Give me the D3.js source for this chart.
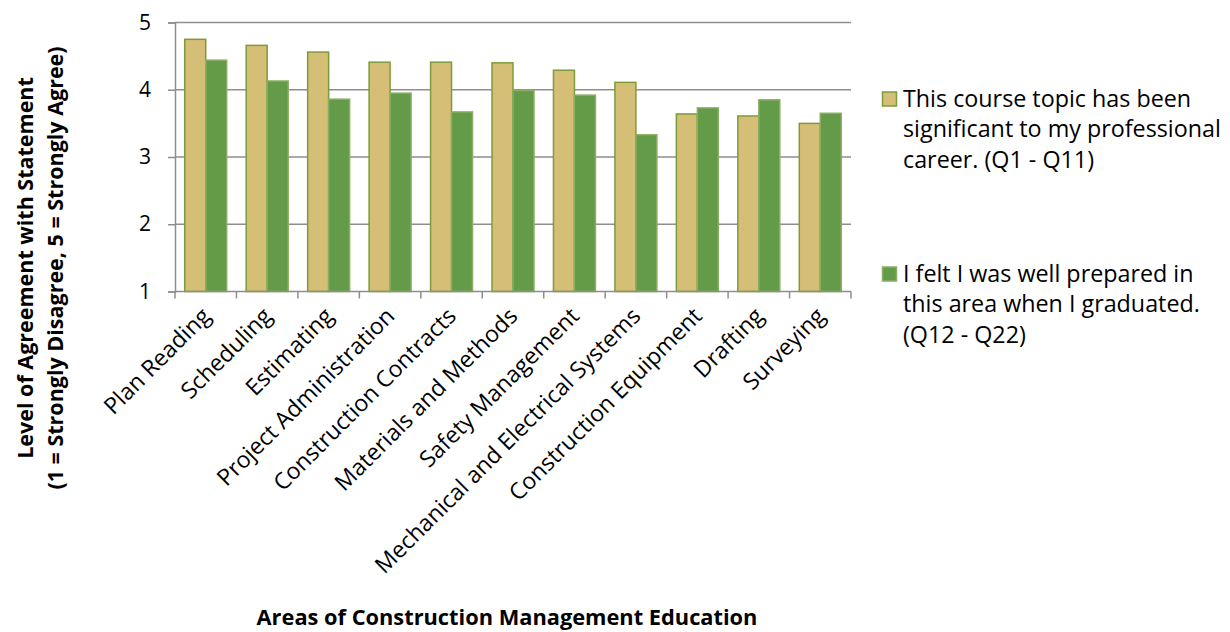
<!DOCTYPE html>
<html>
<head>
<meta charset="utf-8">
<script src="https://cdn.jsdelivr.net/npm/d3@7"></script>
<style>
  body { margin: 0; background: #fff; }
  svg text { font-family: "Open Sans", sans-serif; fill: #000; }
</style>
</head>
<body>
<div id="chart"></div>
<script>
// chart data
let categories = ["Plan Reading", "Scheduling", "Estimating", "Project Administration",
	"Construction Contracts", "Materials and Methods", "Safety Management",
	"Mechanical and Electrical Systems", "Construction Equipment", "Drafting", "Surveying"];
let significant = [4.75, 4.66, 4.56, 4.41, 4.41, 4.40, 4.29, 4.11, 3.64, 3.61, 3.50];
let prepared = [4.44, 4.13, 3.86, 3.95, 3.67, 3.99, 3.92, 3.33, 3.73, 3.85, 3.65];
let yTicks = [1, 2, 3, 4, 5];
let seriesNames = ["significant", "prepared"];
let legendLines = [
	["This course topic has been", "significant to my professional", "career. (Q1 - Q11)"],
	["I felt I was well prepared in", "this area when I graduated.", "(Q12 - Q22)"]
];

let width = 1230,
	height = 632;
let plot = {left: 175, right: 851, top: 22.5, bottom: 291.5};
let colors = {significant: "#D5BE76", prepared: "#639B48"};
let strokes = {significant: "#7E9B3A", prepared: "#8AAE62"};
let gridColor = "#8E8E8E";

let svg = d3.select("#chart").append("svg")
	.attr("width", width)
	.attr("height", height);

let x0 = d3.scaleBand()
	.domain(categories)
	.range([plot.left, plot.right]);

let groupWidth = x0.bandwidth() * 0.683;
let x1 = d3.scaleBand()
	.domain(seriesNames)
	.range([(x0.bandwidth() - groupWidth) / 2, (x0.bandwidth() + groupWidth) / 2]);

let y = d3.scaleLinear()
	.domain([1, 5])
	.range([plot.bottom, plot.top]);

// horizontal gridlines
svg.append("g")
	.selectAll("line")
	.data(yTicks.filter(d => d > 1))
	.enter()
	.append("line")
	.attr("x1", plot.left)
	.attr("x2", plot.right)
	.attr("y1", d => y(d))
	.attr("y2", d => y(d))
	.attr("stroke", gridColor)
	.attr("stroke-width", 1.5);

// y axis
let yaxis = d3.axisLeft(y)
	.tickValues(yTicks)
	.tickSize(7)
	.tickPadding(17)
	.tickFormat(d3.format("d"));

let yg = svg.append("g")
	.attr("transform", "translate(" + plot.left + ",0)")
	.call(yaxis);
yg.select(".domain").attr("stroke", gridColor).attr("stroke-width", 1.5);
yg.selectAll(".tick line").attr("stroke", gridColor).attr("stroke-width", 1.5);
yg.selectAll(".tick text")
	.attr("font-size", 21)
	.attr("font-family", "Open Sans, sans-serif")
	.attr("fill", "#000");

// bars
let rows = categories.map((c, i) => ({cat: c, significant: significant[i], prepared: prepared[i]}));

let groups = svg.append("g")
	.selectAll("g")
	.data(rows)
	.enter()
	.append("g")
	.attr("transform", d => "translate(" + x0(d.cat) + ",0)");

groups.selectAll("rect")
	.data(d => seriesNames.map(k => ({key: k, value: d[k]})))
	.enter()
	.append("rect")
	.attr("x", d => x1(d.key))
	.attr("y", d => y(d.value))
	.attr("width", x1.bandwidth())
	.attr("height", d => y(1) - y(d.value))
	.attr("fill", d => colors[d.key])
	.attr("stroke", d => strokes[d.key])
	.attr("stroke-width", 1.5);

// x axis
let xaxis = svg.append("g");
xaxis.append("line")
	.attr("x1", plot.left)
	.attr("x2", plot.right)
	.attr("y1", plot.bottom)
	.attr("y2", plot.bottom)
	.attr("stroke", gridColor)
	.attr("stroke-width", 1.5);
let boundaries = categories.map(c => x0(c)).concat([plot.right]);
xaxis.selectAll(".xtick")
	.data(boundaries)
	.enter()
	.append("line")
	.attr("class", "xtick")
	.attr("x1", d => d)
	.attr("x2", d => d)
	.attr("y1", plot.bottom)
	.attr("y2", plot.bottom + 7)
	.attr("stroke", gridColor)
	.attr("stroke-width", 1.5);

xaxis.selectAll(".xlabel")
	.data(categories)
	.enter()
	.append("text")
	.attr("class", "xlabel")
	.attr("text-anchor", "end")
	.attr("font-size", 23)
	.attr("transform", d => "translate(" + (x0(d) + x0.bandwidth() / 2 + 6) + "," + (plot.bottom + 26) + ") rotate(-45)")
	.text(d => d);

// axis titles
svg.append("text")
	.attr("x", 507)
	.attr("y", 625)
	.attr("text-anchor", "middle")
	.attr("font-size", 21.8)
	.attr("font-weight", "bold")
	.text("Areas of Construction Management Education");

let ytitle = svg.append("text")
	.attr("transform", "translate(0,268) rotate(-90)")
	.attr("text-anchor", "middle")
	.attr("font-size", 21.5)
	.attr("font-weight", "bold");
ytitle.append("tspan").attr("x", 0).attr("y", 33).text("Level of Agreement with Statement");
ytitle.append("tspan").attr("x", 0).attr("y", 63).text("(1 = Strongly Disagree, 5 = Strongly Agree)");

// legend
let legendTop = [92, 267];
let legend = svg.append("g")
	.selectAll("g")
	.data(seriesNames)
	.enter()
	.append("g")
	.attr("transform", (d, i) => "translate(882.5," + legendTop[i] + ")");

legend.append("rect")
	.attr("width", 14)
	.attr("height", 14)
	.attr("fill", d => colors[d])
	.attr("stroke", d => strokes[d])
	.attr("stroke-width", 1.5);

legend.append("text")
	.attr("font-size", 23.3)
	.selectAll("tspan")
	.data((d, i) => legendLines[i])
	.enter()
	.append("tspan")
	.attr("x", 20.5)
	.attr("y", (d, i) => 14.5 + i * 30.5)
	.text(d => d);
</script>
</body>
</html>
